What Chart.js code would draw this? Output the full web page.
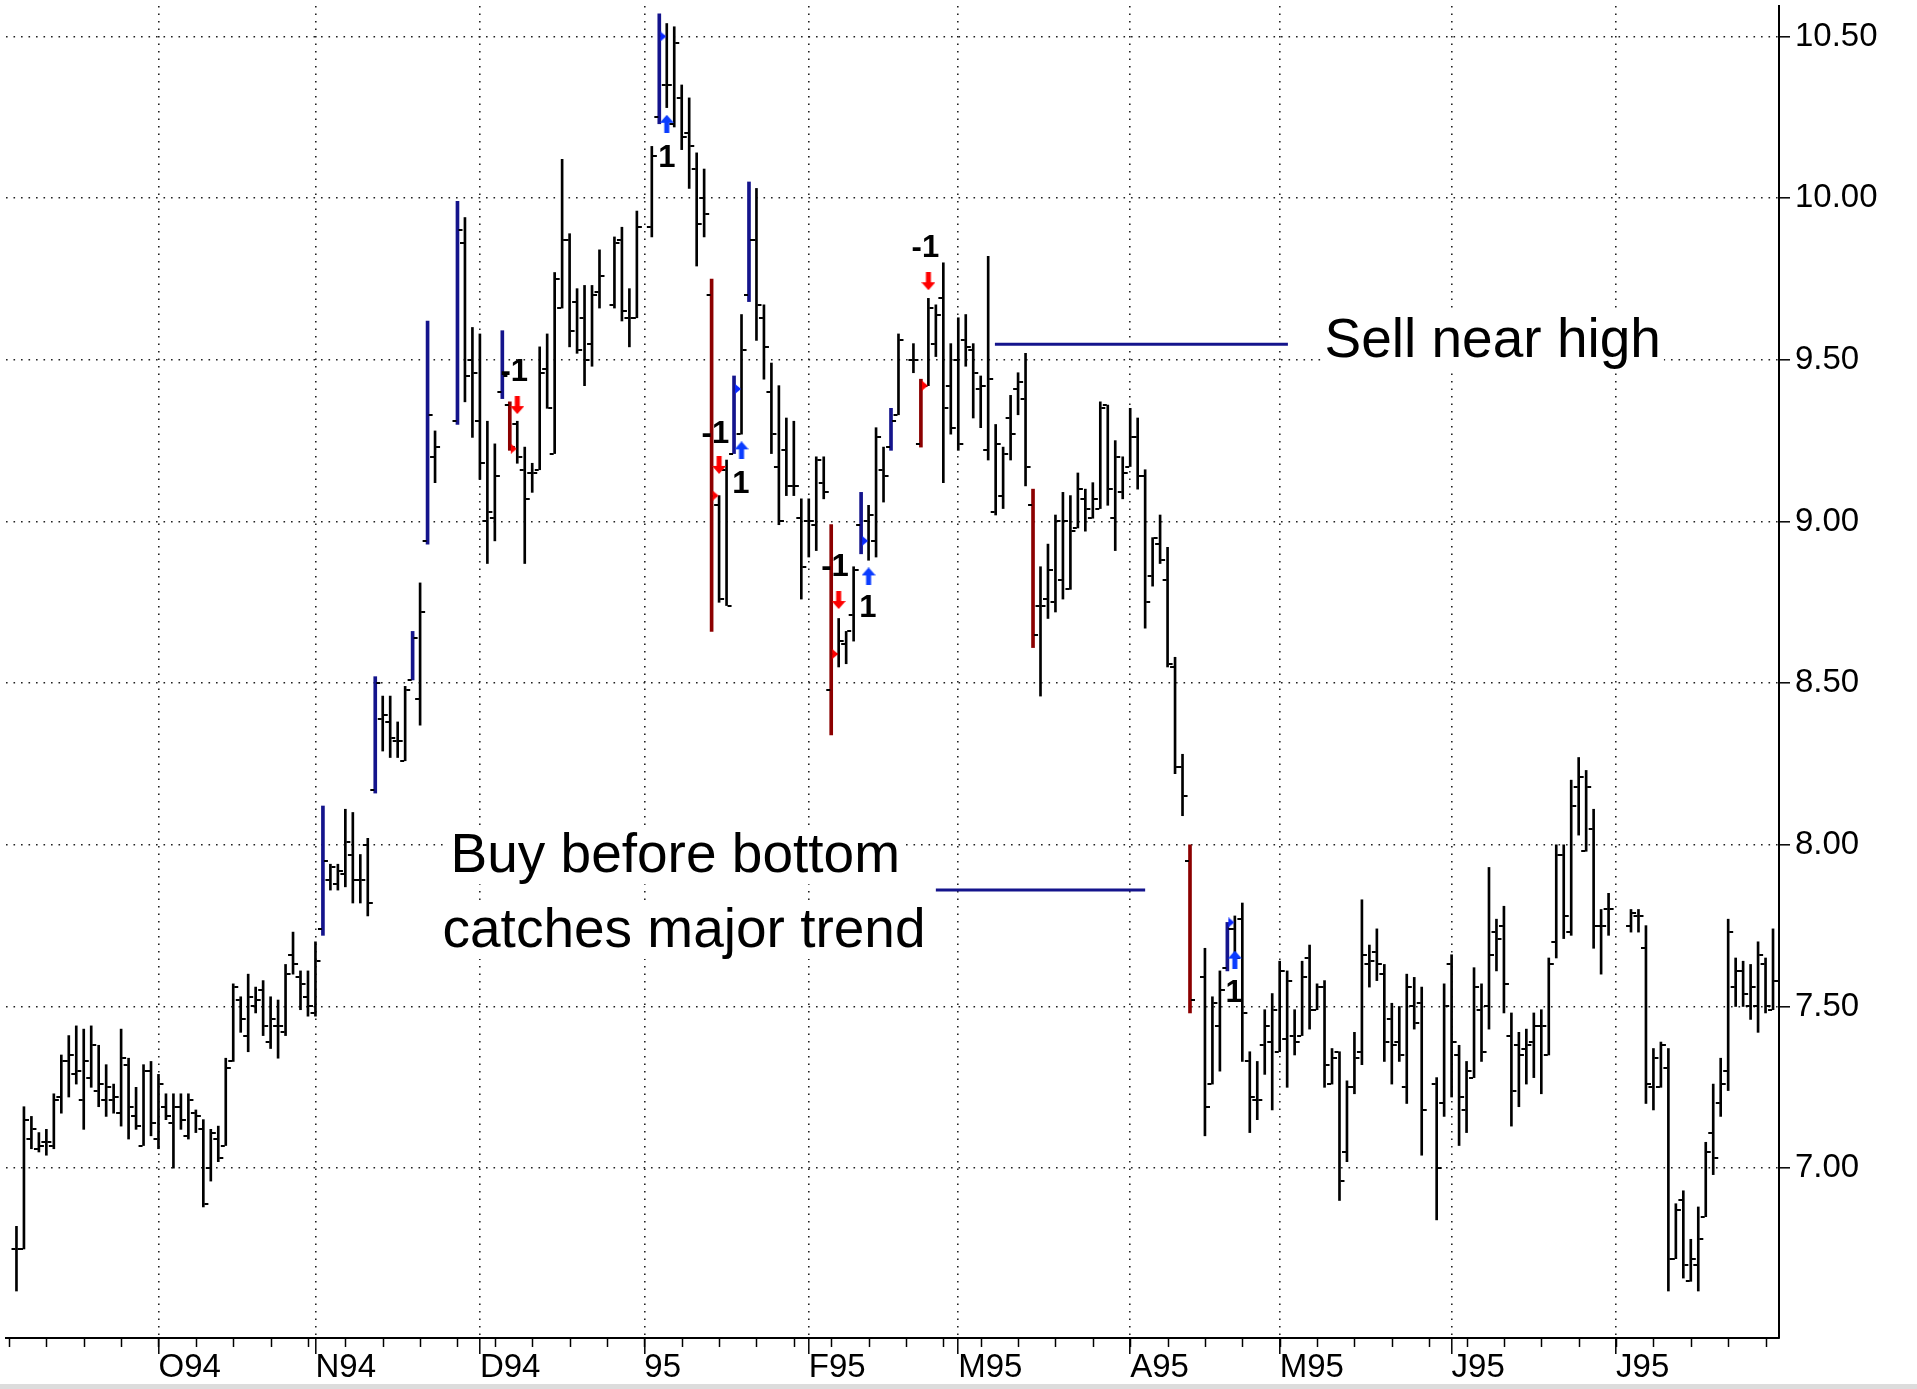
<!DOCTYPE html>
<html>
<head>
<meta charset="utf-8">
<script src="https://cdn.jsdelivr.net/npm/chart.js@4.4.1/dist/chart.umd.min.js"></script>
<style>
html,body{margin:0;padding:0;background:#fff;overflow:hidden;}
#c{display:block;}
</style>
</head>
<body>
<canvas id="c" width="1917" height="1389"></canvas>
<script>
// ---- data (trading-day index counted in weekdays from Mon 5 Sep 1994) ----
const days = [
 1,2,3,4,5,6,7,8,9,10,11,12,13,14,15,16,17,18,19,20,21,22,23,24,25,26,27,28,29,30,
 31,32,33,34,35,36,37,38,39,40,41,42,43,44,45,46,47,48,49,50,51,52,53,54,55,56,57,
 60,61,62,63,64,65,66,67,68,69,70,71,72,73,74,75,76,77,78,79,
 81,82,83,84,
 86,87,88,89,90,91,92,93,94,95,96,97,98,99,100,101,102,103,104,105,106,107,108,109,110,
 111,112,113,114,115,116,117,118,119,
 121,122,123,124,125,126,127,128,129,130,131,132,133,134,135,136,137,138,139,140,
 141,142,143,144,145,146,147,148,149,150,151,152,153,154,155,156,157,158,
 160,161,162,163,164,165,166,167,168,169,170,171,172,173,174,175,176,177,178,179,180,
 181,182,183,184,185,186,187,188,189,
 191,192,193,194,195,196,197,198,199,200,201,202,203,204,205,206,207,208,209,210,
 211,212,213,214,
 217,218,219,220,221,222,223,224,225,226,227,228,229,230,231,232,233,234,235,236
];
const opens = [
 6.75,6.75,7.09,7.06,7.08,7.07,7.22,7.33,7.29,7.21,7.28,7.24,7.21,7.21,7.17,7.32,7.16,7.07,7.30,7.09,
 7.19,7.14,7.19,7.10,7.17,7.12,7.00,7.09,7.07,7.33,7.52,7.41,7.50,7.55,7.39,7.44,7.42,7.66,7.59,7.53,
 7.48,7.74,7.89,7.88,7.91,7.97,7.89,8.00,8.17,8.39,8.38,8.32,8.26,8.51,8.45,8.94,9.20,
 9.31,9.86,9.50,9.31,9.00,9.01,9.40,9.36,9.30,9.16,9.15,9.16,9.47,9.21,9.66,9.87,9.68,9.63,9.55,9.71,
 9.67,9.87,9.63,9.63,
 9.91,10.25,10.35,10.23,10.31,10.20,10.09,10.00,9.70,9.05,9.16,9.21,9.27,9.70,9.87,9.63,9.40,9.17,9.22,9.11,
 9.01,9.00,8.99,9.12,8.48,8.59,8.62,8.71,8.99,9.00,8.94,9.16,9.23,9.33,
 9.50,9.24,9.42,9.55,9.69,9.42,9.50,9.56,9.53,9.41,9.22,9.03,9.08,9.32,9.41,9.38,9.05,8.74,8.76,8.75,
 8.82,8.79,8.98,9.07,9.01,9.04,9.36,9.01,9.09,9.17,9.26,9.14,8.83,8.93,8.82,8.55,8.24,7.95,
 7.59,7.26,7.44,7.62,7.74,7.77,7.33,7.21,7.38,7.39,7.36,7.40,7.41,7.41,7.65,7.49,7.56,7.26,7.36,7.05,
 7.25,7.36,7.63,7.67,7.60,7.46,7.39,7.25,7.50,7.51,
 7.26,7.20,7.63,7.35,7.18,7.28,7.49,7.50,7.73,7.75,7.41,7.38,7.37,7.39,7.44,7.35,7.70,7.97,7.73,8.18,
 7.98,8.05,7.75,7.80,
 7.75,7.78,7.68,7.25,7.25,7.31,6.72,6.90,6.65,6.70,6.85,7.11,7.20,7.30,7.56,7.61,7.50,7.50,7.63,7.49
];
const highs = [
 6.82,7.19,7.16,7.11,7.12,7.23,7.35,7.41,7.44,7.43,7.44,7.38,7.32,7.26,7.43,7.34,7.25,7.32,7.33,7.29,
 7.23,7.23,7.23,7.23,7.18,7.15,7.12,7.13,7.34,7.57,7.53,7.60,7.56,7.58,7.53,7.52,7.63,7.73,7.61,7.61,
 7.70,8.12,7.94,7.94,8.11,8.10,7.97,8.02,8.52,8.46,8.46,8.38,8.49,8.66,8.81,9.62,9.28,
 9.99,9.94,9.60,9.58,9.31,9.24,9.59,9.37,9.31,9.23,9.18,9.54,9.58,9.77,10.12,9.89,9.72,9.73,9.73,9.84,
 9.88,9.91,9.72,9.96,
 10.16,10.57,10.54,10.53,10.35,10.31,10.14,10.09,9.75,9.08,9.19,9.45,9.64,10.05,10.03,9.67,9.49,9.42,9.32,9.31,
 9.07,9.07,9.20,9.20,8.99,8.70,8.66,8.86,9.09,9.05,9.29,9.23,9.35,9.58,
 9.55,9.44,9.69,9.67,9.80,9.55,9.63,9.64,9.55,9.45,9.82,9.30,9.23,9.39,9.46,9.52,9.10,8.86,8.93,9.02,
 9.09,9.08,9.15,9.10,9.12,9.37,9.36,9.25,9.20,9.35,9.32,9.16,8.95,9.02,8.92,8.58,8.28,8.00,
 7.68,7.53,7.61,7.76,7.78,7.82,7.36,7.33,7.49,7.54,7.64,7.61,7.49,7.64,7.69,7.57,7.58,7.37,7.36,7.27,
 7.42,7.83,7.69,7.74,7.63,7.51,7.50,7.60,7.59,7.56,
 7.28,7.57,7.66,7.38,7.33,7.62,7.57,7.93,7.77,7.81,7.48,7.42,7.43,7.48,7.49,7.65,8.00,8.00,8.20,8.27,
 8.23,8.11,7.80,7.85,
 7.80,7.80,7.75,7.37,7.39,7.37,6.89,6.93,6.78,6.88,7.08,7.26,7.34,7.77,7.65,7.64,7.63,7.70,7.65,7.74
];
const lows = [
 6.62,6.75,7.06,7.05,7.04,7.06,7.17,7.22,7.26,7.12,7.25,7.19,7.16,7.17,7.13,7.09,7.12,7.07,7.10,7.06,
 7.15,7.00,7.12,7.09,7.11,6.88,6.96,7.02,7.07,7.33,7.42,7.36,7.48,7.41,7.37,7.34,7.41,7.60,7.49,7.47,
 7.47,7.72,7.86,7.86,7.87,7.82,7.82,7.78,8.16,8.29,8.27,8.27,8.26,8.51,8.37,8.93,9.12,
 9.30,9.37,9.26,9.13,8.87,8.94,9.38,9.22,9.18,8.87,9.09,9.16,9.35,9.21,9.66,9.54,9.52,9.42,9.48,9.66,
 9.66,9.62,9.54,9.63,
 9.88,10.23,10.28,10.22,10.15,10.03,9.79,9.88,8.66,8.75,8.74,9.21,9.27,9.68,9.56,9.44,9.21,8.99,9.08,9.08,
 8.76,8.89,8.91,9.07,8.34,8.55,8.56,8.63,8.90,8.88,8.89,9.06,9.22,9.33,
 9.46,9.23,9.42,9.51,9.12,9.27,9.22,9.48,9.32,9.29,9.19,9.02,9.04,9.19,9.33,9.11,8.61,8.46,8.70,8.72,
 8.76,8.79,8.98,8.97,9.01,9.04,9.05,8.91,9.07,9.17,9.10,8.67,8.80,8.87,8.55,8.22,8.09,7.48,
 7.10,7.26,7.30,7.61,7.62,7.33,7.11,7.15,7.29,7.18,7.36,7.25,7.35,7.41,7.43,7.49,7.25,7.26,6.90,7.02,
 7.23,7.32,7.56,7.58,7.33,7.26,7.33,7.20,7.43,7.04,
 6.84,7.16,7.22,7.07,7.11,7.28,7.33,7.43,7.61,7.48,7.13,7.19,7.26,7.28,7.23,7.35,7.65,7.71,7.72,8.03,
 7.98,7.68,7.60,7.72,
 7.73,7.73,7.20,7.18,7.25,6.62,6.72,6.66,6.65,6.62,6.85,6.98,7.16,7.24,7.50,7.50,7.46,7.42,7.48,7.49
];
const closes = [
 6.75,7.15,7.12,7.07,7.08,7.21,7.33,7.35,7.30,7.33,7.38,7.26,7.25,7.22,7.34,7.19,7.13,7.30,7.14,7.26,
 7.16,7.19,7.15,7.21,7.16,6.89,7.11,7.03,7.31,7.56,7.46,7.53,7.52,7.44,7.46,7.44,7.60,7.63,7.57,7.50,
 7.64,7.95,7.93,7.92,8.01,7.89,7.89,7.82,8.50,8.40,8.33,8.32,8.48,8.64,8.72,9.33,9.23,
 9.90,9.45,9.46,9.18,9.03,9.14,9.45,9.23,9.20,9.07,9.15,9.46,9.35,9.75,9.87,9.59,9.53,9.50,9.70,9.76,
 9.86,9.65,9.63,9.91,
 10.13,10.50,10.35,10.48,10.19,10.16,9.92,9.95,9.08,8.76,8.74,9.41,9.53,9.87,9.67,9.54,9.27,9.00,9.11,9.11,
 8.86,9.00,9.19,9.09,8.59,8.63,8.66,8.85,8.94,9.02,9.26,9.14,9.31,9.56,
 9.50,9.42,9.66,9.64,9.35,9.29,9.24,9.54,9.46,9.42,9.44,9.24,9.21,9.27,9.43,9.17,8.65,8.74,8.85,9.00,
 9.00,8.97,9.10,9.04,9.07,9.35,9.10,9.20,9.15,9.26,9.14,8.75,8.95,8.88,8.56,8.24,8.15,7.52,
 7.19,7.51,7.55,7.74,7.65,7.48,7.22,7.21,7.44,7.49,7.61,7.58,7.39,7.59,7.49,7.56,7.32,7.34,6.96,7.25,
 7.34,7.66,7.64,7.63,7.39,7.38,7.35,7.56,7.45,7.18,
 7.00,7.50,7.39,7.22,7.30,7.56,7.36,7.66,7.71,7.57,7.24,7.35,7.38,7.44,7.44,7.63,7.97,7.78,8.12,8.21,
 8.18,7.75,7.75,7.80,
 7.79,7.78,7.26,7.34,7.38,6.72,6.87,6.70,6.72,6.78,7.05,7.03,7.26,7.73,7.61,7.54,7.56,7.66,7.50,7.58
];
// signal bars
const buyBarDays  = [42,49,54,56,60,66,87,97,99,114,118,163];
const sellBarDays = [67,94,110,122,137,158];
// entry markers on signal bars
const buyMarkDays  = [87,97,114,163];
const buyMarkPrices = [10.50,9.41,8.94,7.76];
const sellMarkDays  = [67,94,110,122];
const sellMarkPrices = [9.225,9.08,8.59,9.42];
// arrows
const buyArrowDays = [88,98,115,164];
const buyArrowPrices = [10.23,9.22,8.83,7.645];
const sellArrowDays = [68,95,111,123];
const sellArrowPrices = [9.36,9.175,8.757,9.743];
// position labels
const buyLabelDays = [88,97.9,114.9,163.9];
const buyLabelPrices = [10.124,9.116,8.73,7.541];
const sellLabelDays = [67.6,94.5,110.5,122.6];
const sellLabelPrices = [9.46,9.268,8.858,9.844];
// annotation lines
const sellLineDays = [131.9,171.1];
const sellLinePrice = 9.548;
const buyLineDays = [124,152];
const buyLinePrice = 7.86;
// annotation texts
const noteTexts = ['Sell near high','Buy before bottom','catches major trend'];
const noteDays = [176,59.07,58];
const notePrices = [9.51,7.915,7.684];
// axes
const monthTickDays = [20,41,63,85,107,127,150,170,193,215];
const monthTickLabels = ['O94','N94','D94','95','F95','M95','A95','M95','J95','J95'];
const weekTickDays = [0,5,10,15,20,25,30,35,40,45,50,55,60,65,70,75,80,85,90,95,100,105,110,115,
 120,125,130,135,140,145,150,155,160,165,170,175,180,185,190,195,200,205,210,215,220,225,230,235];
const priceTicks = [7.0,7.5,8.0,8.5,9.0,9.5,10.0,10.5];

// ---- styles ----
const FONT = '"Liberation Sans", Arial, Helvetica, sans-serif';
const NAVY = '#14148c';
const DARKRED = '#8c0000';
const GRID = '#222';

function makeImg(w, h, draw) {
  const c = document.createElement('canvas');
  c.width = w; c.height = h;
  draw(c.getContext('2d'));
  return c;
}
const openTickImg = makeImg(12, 2, g => { g.fillStyle = '#000'; g.fillRect(1, 0, 4, 2); });
const closeTickImg = makeImg(12, 2, g => { g.fillStyle = '#000'; g.fillRect(7, 0, 4, 2); });
function markImg(color) {
  return makeImg(16, 10, g => {
    g.fillStyle = color; g.beginPath(); g.moveTo(9, 0); g.lineTo(15, 5); g.lineTo(9, 10); g.closePath(); g.fill();
  });
}
const upArrowImg = makeImg(14, 18, g => {
  g.fillStyle = '#0a3cff';
  g.beginPath(); g.moveTo(0, 8); g.lineTo(7, 0); g.lineTo(14, 8); g.closePath(); g.fill();
  g.fillRect(4.5, 7, 5, 11);
});
const downArrowImg = makeImg(14, 18, g => {
  g.fillStyle = '#ff0000';
  g.beginPath(); g.moveTo(0, 10); g.lineTo(7, 18); g.lineTo(14, 10); g.closePath(); g.fill();
  g.fillRect(4.5, 0, 5, 11);
});

// ---- build datasets ----
const plainBars = [], buyBars = [], sellBars = [], openPts = [], closePts = [];
days.forEach((d, i) => {
  const bar = {x: d, y: [lows[i], highs[i]]};
  if (buyBarDays.includes(d)) buyBars.push(bar);
  else if (sellBarDays.includes(d)) sellBars.push(bar);
  else plainBars.push(bar);
  openPts.push({x: d, y: opens[i]});
  closePts.push({x: d, y: closes[i]});
});
const pts = (xs, ys) => xs.map((x, i) => ({x, y: Array.isArray(ys) ? ys[i] : ys}));

const decorPlugin = {
  id: 'decor',
  afterDatasetsDraw(chart) {
    const {ctx, scales: {x, y}} = chart;
    ctx.save();
    // weekly minor ticks
    ctx.strokeStyle = '#000'; ctx.lineWidth = 1.5;
    weekTickDays.forEach(d => {
      const px = Math.round(x.getPixelForValue(d)) + 0.5;
      ctx.beginPath(); ctx.moveTo(px, y.bottom); ctx.lineTo(px, y.bottom + 9); ctx.stroke();
    });
    // bottom strip
    ctx.fillStyle = '#dcdcdc';
    ctx.fillRect(0, chart.height - 5, chart.width, 5);
    // annotation texts
    ctx.font = '55px ' + FONT;
    ctx.textAlign = 'left'; ctx.textBaseline = 'alphabetic';
    noteTexts.forEach((t, i) => {
      const px = x.getPixelForValue(noteDays[i]);
      const py = y.getPixelForValue(notePrices[i]);
      const w = ctx.measureText(t).width;
      ctx.fillStyle = '#fff'; ctx.fillRect(px - 3, py - 44, w + 6, 56);
      ctx.fillStyle = '#000'; ctx.fillText(t, px, py);
    });
    // position labels
    ctx.font = 'bold 31px ' + FONT;
    ctx.textAlign = 'center'; ctx.textBaseline = 'middle'; ctx.fillStyle = '#000';
    buyLabelDays.forEach((d, i) => ctx.fillText('1', x.getPixelForValue(d), y.getPixelForValue(buyLabelPrices[i])));
    sellLabelDays.forEach((d, i) => ctx.fillText('-1', x.getPixelForValue(d), y.getPixelForValue(sellLabelPrices[i])));
    ctx.restore();
  }
};

new Chart(document.getElementById('c'), {
  type: 'bar',
  data: {
    datasets: [
      {type: 'scatter', data: pts(buyArrowDays, buyArrowPrices), pointStyle: upArrowImg, pointRadius: 5, order: 0},
      {type: 'scatter', data: pts(sellArrowDays, sellArrowPrices), pointStyle: downArrowImg, pointRadius: 5, order: 0},
      {type: 'scatter', data: pts(buyMarkDays, buyMarkPrices), pointStyle: markImg('#0a28ff'), pointRadius: 5, order: 0},
      {type: 'scatter', data: pts(sellMarkDays, sellMarkPrices), pointStyle: markImg('#ff0000'), pointRadius: 5, order: 0},
      {type: 'line', data: pts(sellLineDays, sellLinePrice), borderColor: NAVY, borderWidth: 3, pointRadius: 0, order: 1},
      {type: 'line', data: pts(buyLineDays, buyLinePrice), borderColor: NAVY, borderWidth: 3, pointRadius: 0, order: 1},
      {type: 'scatter', data: openPts, pointStyle: openTickImg, pointRadius: 3, order: 2},
      {type: 'scatter', data: closePts, pointStyle: closeTickImg, pointRadius: 3, order: 2},
      {type: 'bar', data: buyBars, backgroundColor: NAVY, barThickness: 3, grouped: false, borderWidth: 0, order: 3},
      {type: 'bar', data: sellBars, backgroundColor: DARKRED, barThickness: 3, grouped: false, borderWidth: 0, order: 3},
      {type: 'bar', data: plainBars, backgroundColor: '#000', barThickness: 2, grouped: false, borderWidth: 0, order: 4}
    ]
  },
  options: {
    responsive: false,
    devicePixelRatio: 1,
    animation: false,
    events: [],
    layout: {padding: 0},
    plugins: {legend: {display: false}, tooltip: {enabled: false}, title: {display: false}},
    scales: {
      x: {
        type: 'linear', position: 'bottom', min: -0.4, max: 236.8, offset: false,
        afterBuildTicks: s => { s.ticks = monthTickDays.map(v => ({value: v})); },
        afterFit: s => { s.height = 51; s.paddingLeft = 0; s.paddingRight = 0; },
        ticks: {
          autoSkip: false, maxRotation: 0, minRotation: 0, align: 'start', padding: -6,
          color: '#000', font: {family: FONT, size: 33},
          callback: (v, i) => monthTickLabels[i]
        },
        grid: {offset: false, color: GRID, lineWidth: 1.6, drawTicks: true, tickLength: 16, tickColor: '#000', tickWidth: 1.5},
        border: {display: true, color: '#000', width: 2, dash: [1.6, 5.9]}
      },
      y: {
        type: 'linear', position: 'right', min: 6.4747, max: 10.5942,
        afterBuildTicks: s => { s.ticks = priceTicks.map(v => ({value: v})); },
        afterFit: s => { s.width = 138; s.paddingTop = 0; s.paddingBottom = 0; },
        ticks: {
          autoSkip: false, padding: 5, color: '#000', font: {family: FONT, size: 33},
          callback: v => Number(v).toFixed(2)
        },
        grid: {offset: false, color: GRID, lineWidth: 1.6, drawTicks: true, tickLength: 11, tickColor: '#000', tickWidth: 1.5},
        border: {display: true, color: '#000', width: 2, dash: [1.6, 5.9]}
      }
    }
  },
  plugins: [decorPlugin]
});
</script>
</body>
</html>
